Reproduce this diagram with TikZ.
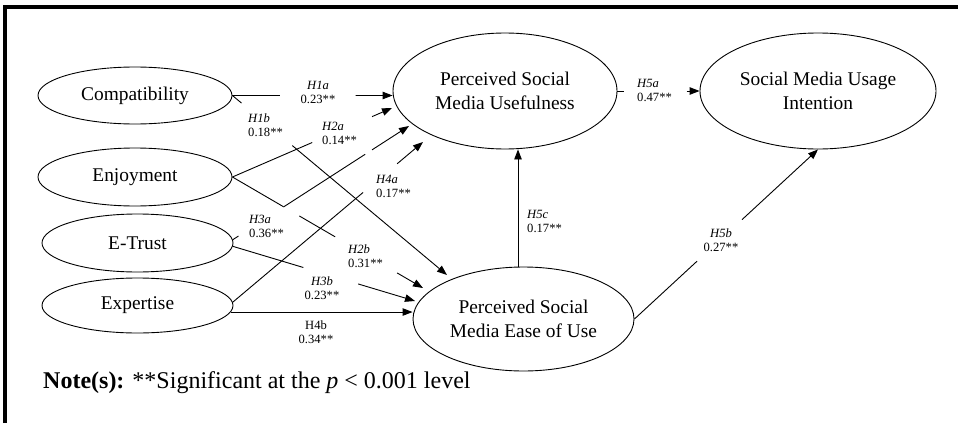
\documentclass[tikz,border=0pt]{standalone}
\usepackage{fontspec}
\setmainfont{Liberation Serif}
\usetikzlibrary{shapes.geometric,arrows.meta,calc}
\begin{document}
\begin{tikzpicture}[x=1pt,y=-1pt,
  construct/.style={draw, ellipse, line width=0.9pt, inner sep=0pt, align=center, font=\fontsize{19.4}{23.5}\selectfont},
  path/.style={line width=0.9pt},
  arr/.style={line width=0.9pt, -{Triangle[length=10pt,width=7.5pt]}},
  lab/.style={font=\fontsize{12.6}{14}\selectfont, inner sep=0pt},
  labl/.style={lab, align=left, anchor=west},
  labc/.style={lab, align=center},
  frame/.style={line width=4pt}
]
\useasboundingbox (0,0) rectangle (958,423);
\draw[frame] (5,423) -- (5,7) -- (958,7);

\node[construct, minimum width=194pt, minimum height=57pt] (cmp) at (135,95.5) {Compatibility};
\node[construct, minimum width=194pt, minimum height=58pt] (enj) at (135,177) {Enjoyment};
\node[construct, minimum width=191pt, minimum height=58pt] (etr) at (137.5,243) {E-Trust};
\node[construct, minimum width=191pt, minimum height=55pt] (expt) at (137.5,305.5) {Expertise};
\node[construct, minimum width=224pt, minimum height=116pt] (psmu) at (505,91) {Perceived Social\\Media Usefulness};
\node[construct, minimum width=236pt, minimum height=116pt] (smui) at (818,91) {Social Media Usage\\Intention};
\node[construct, minimum width=221pt, minimum height=104pt] (peou) at (523.5,319) {Perceived Social\\Media Ease of Use};

% H1a
\coordinate (a1) at (cmp.east);
\coordinate (b1) at (cmp.east -| psmu.west);
\draw[path] (a1) -- ($(a1)!0.298!(b1)$);
\draw[arr] ($(a1)!0.770!(b1)$) -- (b1);
% H1b
\coordinate (b2) at ($(peou.center)+(-76.5,-44)$);
\draw[path] (cmp.east) -- ($(cmp.east)!0.042!(b2)$);
\draw[arr] ($(cmp.east)!0.279!(b2)$) -- (b2);
% H2a
\coordinate (b3) at ($(psmu.center)+(-113,17)$);
\draw[path] (enj.east) -- ($(enj.east)!0.5!(b3)$);
\draw[arr] ($(enj.east)!0.875!(b3)$) -- (b3);
% H2b
\coordinate (b4) at ($(peou.center)+(-100.5,-31)$);
\draw[path] (enj.east) -- ($(enj.east)!0.267!(b4)$);
\draw[path] ($(enj.east)!0.351!(b4)$) -- ($(enj.east)!0.539!(b4)$);
\draw[arr] ($(enj.east)!0.864!(b4)$) -- (b4);
% H3a
\coordinate (a5) at (etr.2);
\coordinate (b5) at ($(psmu.center)+(-96,35)$);
\draw[path] (a5) -- ($(a5)!0.032!(b5)$);
\draw[path] ($(a5)!0.287!(b5)$) -- ($(a5)!0.751!(b5)$);
\draw[arr] ($(a5)!0.79!(b5)$) -- (b5);
% H3b
\coordinate (a6) at (etr.-2);
\coordinate (b6) at ($(peou.center)+(-108.5,-18)$);
\draw[path] (a6) -- ($(a6)!0.387!(b6)$);
\draw[arr] ($(a6)!0.688!(b6)$) -- (b6);
% H4a
\coordinate (a7) at (expt.2);
\coordinate (b7) at ($(psmu.center)+(-82,51)$);
\draw[path] (a7) -- ($(a7)!0.685!(b7)$);
\draw[arr] ($(a7)!0.864!(b7)$) -- (b7);
% H4b
\coordinate (a8) at (expt.-4.7);
\draw[arr] (a8) -- (a8 -| peou.west);
% H5a
\draw[path] (psmu.east) -- ($(psmu.east)!0.084!(smui.west)$);
\draw[arr] ($(psmu.east)!0.843!(smui.west)$) -- (smui.west);
% H5b
\draw[path] (peou.east) -- ($(peou.east)!0.341!(smui.south)$);
\draw[arr] ($(peou.east)!0.586!(smui.south)$) -- (smui.south);
% H5c
\coordinate (a11) at ($(peou.north)+(-5.5,0)$);
\draw[arr] (a11) -- (a11 |- psmu.south);

\node[labc] (l1a) at (318,92) {\textit{H1a}\\0.23**};
\node[labl] (l1b) at (248,125.5) {\textit{H1b}\\0.18**};
\node[labl] (l2a) at (322,133.5) {\textit{H2a}\\0.14**};
\node[labl] (l2b) at (348,256) {\textit{H2b}\\0.31**};
\node[labl] (l3a) at (249,226.5) {\textit{H3a}\\0.36**};
\node[labc] (l3b) at (322,288.5) {\textit{H3b}\\0.23**};
\node[labl] (l4a) at (376,186.5) {\textit{H4a}\\0.17**};
\node[labc] (l4b) at (316,332.5) {H4b\\0.34**};
\node[labl] (l5a) at (637,90) {\textit{H5a}\\0.47**};
\node[labc] (l5b) at (721,240) {\textit{H5b}\\0.27**};
\node[labl] (l5c) at (527,221) {\textit{H5c}\\0.17**};

\node[anchor=base west, inner sep=0pt, font=\fontsize{24}{28}\selectfont] (note) at (43,388) {\textbf{Note(s):} **Significant at the \textit{p} < 0.001 level};
\end{tikzpicture}
\end{document}
